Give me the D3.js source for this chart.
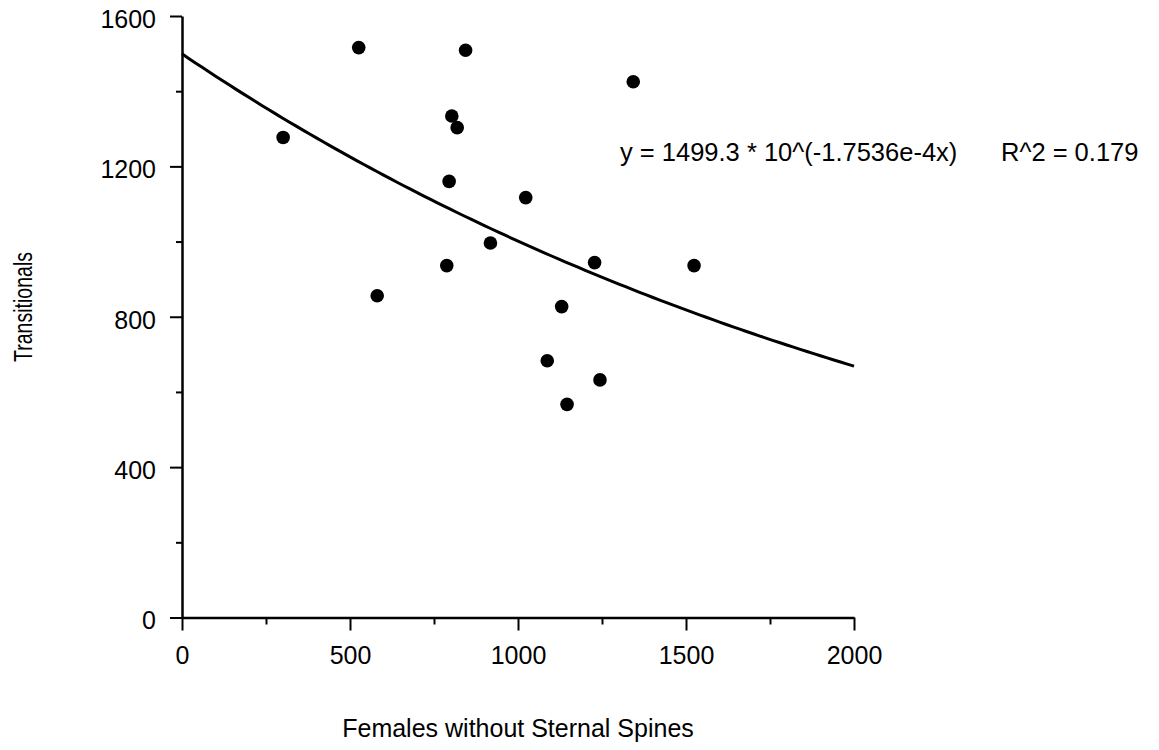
<!DOCTYPE html>
<html>
<head>
<meta charset="utf-8">
<script src="https://cdn.jsdelivr.net/npm/d3@7"></script>
<style>
  html, body { margin: 0; padding: 0; background: #fff; }
  svg { display: block; }
  text { font-family: "Liberation Sans", Arial, Helvetica, sans-serif; fill: #000; }
</style>
</head>
<body>
<svg id="chart" width="1159" height="750"></svg>
<script>
// Observations: females without sternal spines vs. transitionals
const femalesNoSpines = [526, 844, 803, 819, 301, 795, 1023, 918, 788, 581, 1228, 1524, 1130, 1087, 1244, 1146, 1343];
const transitionals   = [1516, 1509, 1334, 1303, 1277, 1160, 1117, 996, 936, 856, 944, 936, 827, 683, 632, 567, 1425];

// Exponential fit: y = a * 10^(b x)
const fitA = 1499.3;
const fitB = -1.7536e-4;
const fitR2 = 0.179;

const xMajorTicks = [0, 500, 1000, 1500, 2000];
const xMinorTicks = [250, 750, 1250, 1750];
const yMajorTicks = [0, 400, 800, 1200, 1600];
const yMinorTicks = [200, 600, 1000, 1400];

const svg = d3.select("#chart");

const x = d3.scaleLinear().domain([0, 2000]).range([182, 854]);
const y = d3.scaleLinear().domain([0, 1600]).range([617.5, 16]);

const fontFamily = "'Liberation Sans', Arial, sans-serif";

// Minor ticks (unlabelled, short)
svg.append("g")
  .attr("transform", `translate(0,${y(0)})`)
  .call(d3.axisBottom(x).tickValues(xMinorTicks).tickSize(7).tickFormat("").tickSizeOuter(0))
  .call(g => g.select(".domain").remove())
  .call(g => g.selectAll("line").attr("stroke-width", 2));

svg.append("g")
  .attr("transform", `translate(${x(0)},0)`)
  .call(d3.axisLeft(y).tickValues(yMinorTicks).tickSize(6).tickFormat("").tickSizeOuter(0))
  .call(g => g.select(".domain").remove())
  .call(g => g.selectAll("line").attr("stroke-width", 2));

// Major ticks with labels
const xAxis = svg.append("g")
  .attr("transform", `translate(0,${y(0)})`)
  .call(d3.axisBottom(x).tickValues(xMajorTicks).tickFormat(d3.format("d"))
    .tickSize(13).tickPadding(16).tickSizeOuter(0));
xAxis.select(".domain").attr("stroke-width", 2.5);
xAxis.selectAll("line").attr("stroke-width", 2);
xAxis.selectAll("text")
  .attr("font-size", 25)
  .attr("fill", "#000")
  .style("font-family", fontFamily);

const yAxis = svg.append("g")
  .attr("transform", `translate(${x(0)},0)`)
  .call(d3.axisLeft(y).tickValues(yMajorTicks).tickFormat(d3.format("d"))
    .tickSize(12).tickPadding(14).tickSizeOuter(0));
yAxis.select(".domain").attr("stroke-width", 2.5);
yAxis.selectAll("line").attr("stroke-width", 2);
yAxis.selectAll("text")
  .attr("font-size", 25)
  .attr("dy", "0.45em")
  .attr("fill", "#000")
  .style("font-family", fontFamily);

// Fitted curve
const curveXs = d3.range(0, 2001, 20);
const line = d3.line()
  .x(d => x(d))
  .y(d => y(fitA * Math.pow(10, fitB * d)));

svg.append("path")
  .datum(curveXs)
  .attr("d", line)
  .attr("fill", "none")
  .attr("stroke", "#000")
  .attr("stroke-width", 3);

// Data points
svg.append("g")
  .selectAll("circle")
  .data(femalesNoSpines.map((v, i) => [v, transitionals[i]]))
  .join("circle")
  .attr("cx", d => x(d[0]))
  .attr("cy", d => y(d[1]))
  .attr("r", 6.8)
  .attr("fill", "#000");

// Equation label
svg.append("text")
  .attr("x", 620)
  .attr("y", 161)
  .attr("font-size", 25.5)
  .text(`y = ${fitA} * 10^(${fitB.toExponential(4)}x)`);

svg.append("text")
  .attr("x", 1001)
  .attr("y", 161)
  .attr("font-size", 25.5)
  .text(`R^2 = ${fitR2}`);

// Axis titles
svg.append("text")
  .attr("x", 518)
  .attr("y", 737)
  .attr("text-anchor", "middle")
  .attr("font-size", 25)
  .text("Females without Sternal Spines");

svg.append("text")
  .attr("transform", "translate(32,307) rotate(-90)")
  .attr("text-anchor", "middle")
  .attr("font-size", 26)
  .attr("textLength", 110)
  .attr("lengthAdjust", "spacingAndGlyphs")
  .text("Transitionals");
</script>
</body>
</html>
